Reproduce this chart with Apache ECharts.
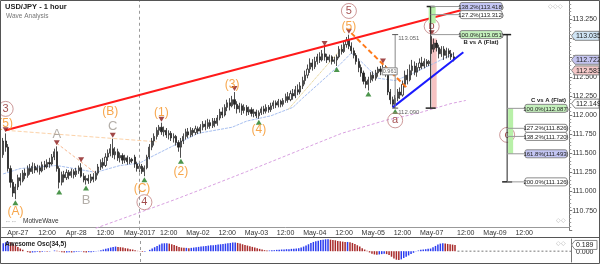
<!DOCTYPE html>
<html><head><meta charset="utf-8">
<script src="https://cdn.jsdelivr.net/npm/echarts@6/dist/echarts.min.js"></script>
<style>html,body{margin:0;padding:0;background:#fff;overflow:hidden}#c{width:600px;height:264px}</style>
</head><body><div id="c"></div>
<script>
// ================= DATA =================
const slotCount = 233; // hourly slots across the plot (incl. empty future area)
const timeTicks = [[6,'Apr-27'],[18,'12:00'],[30,'Apr-28'],[42,'12:00'],[56,'May-2017'],[68,'12:00'],[80,'May-02'],[92,'12:00'],[104,'May-03'],[116,'12:00'],[128,'May-04'],[140,'12:00'],[152,'May-05'],[164,'12:00'],[176,'May-07'],[190,'12:00'],[202,'May-09'],[214,'12:00']];
// [open, close, low, high]
const candles = [
[111.48,111.66,111.44,111.70],[111.66,111.58,111.52,111.76],[111.58,111.30,111.26,111.62],[111.30,111.12,111.05,111.34],
[111.12,110.98,110.93,111.16],[110.98,111.06,110.90,111.10],[111.06,111.18,111.02,111.22],[111.18,111.14,111.08,111.24],
[111.14,111.24,111.12,111.28],[111.24,111.21,111.16,111.30],[111.21,111.30,111.18,111.34],[111.30,111.26,111.22,111.36],
[111.26,111.33,111.23,111.38],[111.33,111.28,111.24,111.37],[111.28,111.31,111.25,111.35],[111.31,111.27,111.22,111.34],
[111.27,111.35,111.25,111.39],[111.35,111.32,111.28,111.40],[111.32,111.38,111.30,111.42],[111.38,111.36,111.31,111.44],
[111.36,111.45,111.34,111.49],[111.45,111.52,111.41,111.56],[111.52,111.30,111.26,111.59],[111.30,111.12,111.04,111.33],
[111.12,111.22,111.08,111.26],[111.22,111.18,111.12,111.27],[111.18,111.25,111.15,111.29],[111.25,111.21,111.16,111.28],
[111.21,111.26,111.18,111.30],[111.26,111.22,111.17,111.29],[111.22,111.27,111.19,111.31],[111.27,111.31,111.23,111.34],
[111.31,111.20,111.18,111.37],[111.20,111.15,111.12,111.24],[111.15,111.17,111.09,111.21],[111.17,111.14,111.10,111.22],
[111.14,111.19,111.11,111.23],[111.19,111.16,111.12,111.24],[111.16,111.24,111.14,111.27],[111.24,111.32,111.21,111.36],
[111.32,111.38,111.28,111.42],[111.38,111.34,111.30,111.44],[111.34,111.45,111.32,111.50],[111.45,111.50,111.40,111.55],
[111.50,111.56,111.46,111.62],[111.56,111.48,111.44,111.69],[111.48,111.52,111.42,111.58],[111.52,111.44,111.40,111.56],
[111.44,111.47,111.38,111.51],[111.47,111.41,111.36,111.50],[111.41,111.44,111.37,111.48],[111.44,111.39,111.35,111.47],
[111.39,111.42,111.36,111.45],[111.42,111.40,111.37,111.44],[111.45,111.36,111.31,111.48],[111.36,111.30,111.26,111.39],
[111.30,111.33,111.25,111.37],[111.33,111.26,111.23,111.36],[111.26,111.31,111.20,111.34],[111.31,111.45,111.29,111.48],
[111.45,111.58,111.42,111.62],[111.58,111.66,111.54,111.70],[111.66,111.72,111.60,111.76],[111.72,111.80,111.68,111.84],
[111.80,111.84,111.74,111.87],[111.84,111.78,111.74,111.90],[111.78,111.80,111.72,111.85],[111.80,111.74,111.70,111.83],
[111.74,111.76,111.68,111.80],[111.76,111.70,111.66,111.79],[111.70,111.72,111.64,111.76],[111.72,111.64,111.60,111.74],
[111.64,111.58,111.52,111.67],[111.58,111.66,111.44,111.70],[111.66,111.72,111.62,111.76],[111.72,111.78,111.68,111.82],
[111.78,111.74,111.70,111.83],[111.74,111.80,111.71,111.84],[111.80,111.77,111.72,111.83],[111.77,111.82,111.74,111.86],
[111.82,111.79,111.75,111.85],[111.79,111.84,111.76,111.88],[111.84,111.88,111.80,111.92],[111.88,111.85,111.80,111.93],
[111.85,111.90,111.82,111.95],[111.90,111.86,111.82,111.94],[111.86,111.92,111.83,111.96],[111.92,111.89,111.84,111.96],
[111.89,111.96,111.86,112.00],[111.96,112.04,111.93,112.08],[112.04,112.00,111.96,112.10],[112.00,112.10,111.98,112.14],
[112.10,112.16,112.05,112.20],[112.16,112.12,112.06,112.22],[112.12,112.20,112.10,112.25],[112.20,112.14,112.08,112.30],
[112.14,112.08,112.02,112.18],[112.08,112.12,112.03,112.16],[112.12,112.06,112.00,112.15],[112.06,112.10,112.02,112.14],
[112.10,112.04,111.99,112.13],[112.04,112.07,112.00,112.11],[112.07,112.02,111.98,112.10],[112.02,112.04,111.97,112.08],
[112.04,111.99,111.96,112.07],[111.99,112.03,111.95,112.06],[112.03,112.08,112.00,112.11],[112.08,112.05,112.01,112.12],
[112.05,112.10,112.02,112.14],[112.10,112.07,112.03,112.13],[112.07,112.12,112.04,112.16],[112.12,112.16,112.08,112.19],
[112.16,112.13,112.09,112.19],[112.13,112.18,112.10,112.21],[112.18,112.14,112.10,112.20],[112.14,112.19,112.11,112.22],
[112.19,112.24,112.16,112.28],[112.24,112.20,112.16,112.30],[112.20,112.28,112.18,112.32],[112.28,112.25,112.20,112.34],
[112.25,112.33,112.22,112.38],[112.33,112.30,112.26,112.40],[112.30,112.38,112.27,112.43],[112.38,112.45,112.34,112.50],
[112.45,112.52,112.40,112.58],[112.52,112.60,112.48,112.66],[112.60,112.68,112.55,112.74],[112.68,112.63,112.58,112.73],
[112.63,112.70,112.60,112.76],[112.70,112.76,112.66,112.80],[112.76,112.72,112.68,112.82],[112.72,112.80,112.70,112.85],
[112.80,112.76,112.71,112.89],[112.76,112.72,112.68,112.80],[112.72,112.76,112.69,112.79],[112.76,112.70,112.66,112.78],
[112.70,112.72,112.67,112.76],[112.72,112.76,112.64,112.79],[112.76,112.86,112.74,112.90],[112.86,112.83,112.79,112.92],
[112.83,112.92,112.81,112.96],[112.92,112.98,112.88,113.02],[112.98,112.90,112.86,113.05],[112.90,112.84,112.80,112.95],
[112.84,112.78,112.74,112.88],[112.78,112.70,112.66,112.81],[112.70,112.62,112.56,112.74],[112.62,112.55,112.50,112.66],
[112.55,112.44,112.40,112.58],[112.44,112.40,112.35,112.50],[112.40,112.46,112.32,112.50],[112.46,112.52,112.42,112.56],
[112.52,112.48,112.44,112.57],[112.48,112.55,112.45,112.59],[112.55,112.60,112.50,112.63],[112.60,112.57,112.52,112.64],
[112.57,112.62,112.54,112.66],[112.62,112.55,112.50,112.65],[112.55,112.30,112.26,112.58],[112.30,112.20,112.14,112.34],
[112.20,112.14,112.10,112.24],[112.14,112.22,112.09,112.26],[112.22,112.30,112.18,112.34],[112.30,112.26,112.21,112.36],
[112.26,112.40,112.24,112.45],[112.40,112.52,112.36,112.58],[112.52,112.46,112.40,112.60],[112.46,112.58,112.44,112.66],
[112.58,112.64,112.52,112.72],[112.64,112.56,112.52,112.70],[112.56,112.62,112.50,112.68],[112.62,112.68,112.58,112.74],
[112.68,112.64,112.60,112.76],[112.64,112.70,112.61,112.74],[112.70,112.67,112.63,112.73],[112.67,112.70,112.64,112.72],
[112.92,112.86,112.80,113.03],[112.86,112.94,112.82,113.00],[112.94,112.88,112.83,112.98],[112.88,112.80,112.74,112.92],
[112.80,112.86,112.76,112.90],[112.86,112.78,112.72,112.90],[112.78,112.84,112.74,112.88],[112.84,112.80,112.75,112.87],
[112.80,112.76,112.72,112.85],[112.76,112.72,112.70,112.82]
];
const maFast = [[0,111.23],[7,111.30],[22,111.34],[38,111.25],[48,111.34],[56,111.37],[60,111.44],[70,111.60],[80,111.76],[94,111.84],[100,111.92],[110,111.99],[119,112.10],[123,112.22],[130,112.42],[138,112.65],[143,112.81],[147,112.70],[154,112.48],[161,112.45],[168,112.54],[176,112.66],[185,112.80]];
const maSlow = [[38,110.52],[59,110.76],[71,110.90],[80,111.01],[100,111.26],[121,111.53],[139,111.76],[157,111.93],[170,112.02],[184,112.15],[190,112.19]];
const maTan = [[117,112.07],[142,112.98]];
const redTrend = [[1,111.80],[188,113.37]];
const blueTrend = [[160,112.10],[189,112.82]];
const orangeTrend = [[143,113.07],[166,112.35]];
const peachLine = [[1,111.80],[63,111.65]];
const abLine = [[22,111.63],[38,111.24]];
const monthSplit = 56;
const highMarks = [1,22,32,45,65,95,132,142,156,176];
const lowMarks = [5,23,34,58,73,105,137,150,161];
const circleLabels = [[1,112.08,'3'],[58,110.86,'4'],[142,113.36,'5'],[161,111.93,'a'],[176,113.16,'b'],[207,111.74,'c']];
const orangeLabels = [[1,111.89,'(5)'],[5,110.74,'(A)'],[44,112.04,'(B)'],[57,111.04,'(C)'],[65,112.03,'(1)'],[73,111.26,'(2)'],[94,112.40,'(3)'],[105,111.81,'(4)'],[142,113.15,'(5)']];
const grayLabels = [[22,111.74,'A'],[34,110.88,'B'],[45,111.85,'C']];
const fibBvsA = [['100.0%',113.051],['127.2%',113.312],['138.2%',113.418]];
const fibCvsA = [['100.0%',112.087],['127.2%',111.826],['138.2%',111.720],['161.8%',111.493],['200.0%',111.126]];
const measure = {index:161, top:113.051, bottom:112.090, diff:'0.961'};
const bIndex = 176, cToolIndex = 207;
const priceTags = [113.035, 112.722, 112.583, 112.149];
const osc = [0.24,0.27,0.29,0.27,0.23,0.18,0.13,0.08,0.04,0.00,-0.03,-0.05,-0.04,-0.03,-0.02,-0.03,-0.02,-0.01,-0.02,-0.01,
0.00,0.02,0.01,-0.01,-0.03,-0.04,-0.04,-0.03,-0.04,-0.03,-0.02,-0.02,-0.01,-0.03,-0.04,-0.03,-0.03,-0.02,-0.01,0.01,
0.03,0.05,0.07,0.09,0.11,0.13,0.14,0.13,0.12,0.11,0.09,0.08,0.06,0.05,0.03,0.01,-0.01,-0.02,-0.02,0.00,
0.04,0.08,0.12,0.16,0.20,0.23,0.24,0.24,0.23,0.21,0.19,0.16,0.13,0.11,0.10,0.10,0.09,0.10,0.11,0.12,
0.13,0.14,0.15,0.16,0.17,0.18,0.18,0.19,0.20,0.21,0.22,0.23,0.24,0.25,0.26,0.26,0.25,0.23,0.21,0.19,
0.17,0.15,0.13,0.11,0.09,0.07,0.05,0.03,0.02,0.02,0.03,0.03,0.04,0.04,0.05,0.05,0.06,0.06,0.07,0.07,
0.08,0.09,0.11,0.14,0.17,0.21,0.25,0.28,0.30,0.32,0.34,0.35,0.36,0.36,0.35,0.34,0.33,0.31,0.30,0.29,
0.28,0.28,0.27,0.25,0.22,0.18,0.14,0.09,0.05,0.01,-0.04,-0.08,-0.10,-0.11,-0.10,-0.09,-0.08,-0.09,-0.12,-0.17,
-0.22,-0.26,-0.27,-0.25,-0.21,-0.17,-0.13,-0.09,-0.05,-0.01,0.02,0.04,0.05,0.06,0.07,0.08,0.12,0.16,0.20,0.23,
0.24,0.23,0.22,0.21,0.20,0.19];
const oscLast = 0.189;

// ================= CHART =================
const FONT = 'Liberation Sans';
const slots = Array.from({length: slotCount}, (_, i) => 'h' + i);
const tickMap = {}; timeTicks.forEach(([i, t]) => tickMap[i] = t);
const isTick = (idx) => tickMap[idx] !== undefined;

const lineSeries = (data, color, width, type, extra) => Object.assign({
  type: 'line', data, xAxisIndex: 0, yAxisIndex: 0, showSymbol: false, symbol: 'none',
  lineStyle: {color, width, type}, silent: true, z: 3
}, extra || {});

const labelSeries = (data, fmt) => Object.assign({
  type: 'scatter', xAxisIndex: 0, yAxisIndex: 0, silent: true, z: 8,
  data: data.map(d => [d[0], d[1], d[2]])
}, fmt);

const option = {
  animation: false,
  backgroundColor: '#fff',
  textStyle: {fontFamily: FONT},
  grid: [
    {left: 2, right: 29, top: 0.25, height: 229.5},
    {left: 2, right: 29, top: 239, height: 23}
  ],
  xAxis: [
    {type: 'category', gridIndex: 0, data: slots, boundaryGap: true, offset: -2.5,
     axisLine: {lineStyle: {color: '#999', width: 1}},
     axisTick: {interval: isTick, alignWithLabel: true, length: 3, lineStyle: {color: '#666'}},
     axisLabel: {interval: isTick, formatter: (v, i) => tickMap[i] || '', fontSize: 7, color: '#333', margin: 2, fontFamily: FONT},
     splitLine: {show: false}},
    {type: 'category', gridIndex: 1, data: slots, boundaryGap: true,
     axisLine: {show: false}, axisTick: {show: false}, axisLabel: {show: false}, splitLine: {show: false}}
  ],
  yAxis: [
    {type: 'value', gridIndex: 0, position: 'right', min: 110.5, max: 113.5, interval: 0.25,
     axisLine: {show: true, lineStyle: {color: '#777'}},
     axisTick: {show: true, length: 3, lineStyle: {color: '#777'}},
     minorTick: {show: true, splitNumber: 5, length: 2, lineStyle: {color: '#999'}},
     axisLabel: {fontSize: 7, color: '#333', margin: 3, showMinLabel: false, showMaxLabel: false,
                 formatter: v => v.toFixed(3), fontFamily: FONT},
     splitLine: {show: false}},
    {type: 'value', gridIndex: 1, position: 'right', min: -0.33, max: 0.37,
     axisLine: {show: true, lineStyle: {color: '#777'}}, axisTick: {show: false},
     axisLabel: {show: false}, splitLine: {show: false}}
  ],
  series: [
    lineSeries(maSlow, '#d8a0e0', 1, [3, 2]),
    lineSeries(maFast, '#a8c0f0', 1, [3, 1]),
    lineSeries(maTan, '#e8d8a0', 1, [3, 1]),
    lineSeries(peachLine, '#fcd2a8', 1, [4, 2]),
    lineSeries(abLine, '#f8b890', 1, [3, 2]),
    {
      type: 'candlestick', xAxisIndex: 0, yAxisIndex: 0, z: 4,
      data: candles, barWidth: 1.6, silent: true,
      itemStyle: {color: '#ffffff', color0: '#222222', borderColor: '#222222', borderColor0: '#222222', borderWidth: 0.8},
      markLine: {silent: true, symbol: 'none', label: {show: false},
        lineStyle: {color: '#9a9a9a', type: [3, 3], width: 1},
        data: [{xAxis: monthSplit}]}
    },
    lineSeries(redTrend, '#ff1a1a', 2, 'solid', {z: 5}),
    lineSeries(blueTrend, '#1a1aff', 2, 'solid', {z: 5}),
    lineSeries(orangeTrend, '#ff7a1a', 2, [5, 3], {z: 5}),
    labelSeries(highMarks.map(i => [i, candles[i][3], '']), {
      symbol: 'triangle', symbolRotate: 180, symbolSize: [6, 5], symbolOffset: [0, -3.5],
      itemStyle: {color: '#8b1a1a'}}),
    labelSeries(lowMarks.map(i => [i, candles[i][2], '']), {
      symbol: 'triangle', symbolSize: [6, 5], symbolOffset: [0, 3.5],
      itemStyle: {color: '#1f7a1f'}}),
    labelSeries(circleLabels, {
      symbol: 'circle', symbolSize: 15,
      itemStyle: {color: 'rgba(255,255,255,0)', borderColor: '#c08080', borderWidth: 1},
      label: {show: true, position: 'inside', formatter: p => p.data[2], color: '#8b1f1f', fontSize: 11, fontFamily: FONT}}),
    labelSeries(orangeLabels, {
      symbol: 'circle', symbolSize: 1, itemStyle: {color: 'rgba(0,0,0,0)'},
      label: {show: true, position: 'inside', formatter: p => p.data[2], color: '#f5901e', fontSize: 12, fontFamily: FONT}}),
    labelSeries(grayLabels, {
      symbol: 'circle', symbolSize: 1, itemStyle: {color: 'rgba(0,0,0,0)'},
      label: {show: true, position: 'inside', formatter: p => p.data[2], color: '#a09a92', fontSize: 13, fontFamily: FONT}}),
    {
      type: 'bar', xAxisIndex: 1, yAxisIndex: 1, barWidth: 1.5, silent: true,
      data: osc.map((v, i) => ({value: v, itemStyle: {color: (i > 0 && v < osc[i - 1]) ? '#a82a2a' : '#2b3cf0'}})),
      markLine: {silent: true, symbol: 'none', label: {show: false},
        lineStyle: {color: '#9a9a9a', type: [3, 3], width: 1},
        data: [{xAxis: monthSplit}]}
    }
  ]
};

const chart = echarts.init(document.getElementById('c'), null, {renderer: 'canvas'});
chart.setOption(option);

// ================= ANNOTATIONS (positioned through the axes) =================
const P = (i, v) => chart.convertToPixel({gridIndex: 0}, [i, v]);
const PO = (i, v) => chart.convertToPixel({gridIndex: 1}, [i, v]);
const G = [];
const ln = (x1, y1, x2, y2, stroke, w, dash, z) => G.push({type: 'line', silent: true, z: z || 20,
  shape: {x1, y1, x2, y2}, style: {stroke, lineWidth: w || 1, lineDash: dash || null}});
const rc = (x, y, w, h, fill, stroke, r, z) => G.push({type: 'rect', silent: true, z: z || 20,
  shape: {x, y, width: w, height: h, r: r || 0}, style: {fill, stroke: stroke || null, lineWidth: stroke ? 1 : 0}});
const tx = (x, y, text, o, z) => G.push({type: 'text', silent: true, z: z || 30, x, y,
  style: Object.assign({text, fill: '#222', fontSize: 6, fontFamily: FONT, align: 'left', verticalAlign: 'middle'}, o || {})});
const box = (x, y, text, fill) => { rc(x, y - 4, 42, 8, fill, '#8a8a8a', 2, 25); tx(x + 21, y + 0.5, text, {align: 'center', fontSize: 6, fill: '#222'}); };

const xRight = 571;
// Frame
G.push({type: 'rect', silent: true, z: 40, shape: {x: 0.5, y: 0.5, width: 599, height: 263}, style: {fill: null, stroke: '#555', lineWidth: 1}});
ln(0, 237.5, 600, 237.5, '#555', 1, null, 40);

// Title & watermark texts
tx(5, 7, 'USD/JPY - 1 hour', {fontSize: 7.5, fontWeight: 'bold', fill: '#222'});
tx(6, 16, 'Wave Analysis', {fontSize: 6.5, fill: '#777'});
tx(23, 221.5, 'MotiveWave', {fontSize: 6.5, fill: '#333'});
tx(5, 221.5, '⇔⇔', {fontSize: 6, fill: '#999'});
tx(548, 6, '◇◇◇', {fontSize: 6, fill: '#aaa'});
tx(556, 220, '◇◇', {fontSize: 6, fill: '#aaa'});
tx(556, 243, '◇◇', {fontSize: 6, fill: '#aaa'});
tx(5, 244, 'Awesome Osc(34,5)', {fontSize: 6.5, fontWeight: 'bold', fill: '#222'});

// Measurement tool at wave a
{
  const [xm, yt] = P(measure.index, measure.top);
  const yb = P(measure.index, measure.bottom)[1];
  ln(xm, yt, xm, yb, '#888', 1);
  ln(xm - 3, yt, xm + 3, yt, '#555', 1);
  ln(xm - 3, yb, xm + 3, yb, '#555', 1);
  tx(xm + 3, yt + 4, measure.top.toFixed(3), {fontSize: 6, fill: '#666'});
  tx(xm + 3, yb + 4, measure.bottom.toFixed(3), {fontSize: 6, fill: '#666'});
  rc(xm - 13, (yt + yb) / 2 - 3.5, 15, 7, '#fff', '#888', 0, 22);
  tx(xm - 5.5, (yt + yb) / 2, measure.diff, {fontSize: 5.5, fill: '#666', align: 'center'});
}

// B vs A (Flat) tool
const xb = P(bIndex, 113)[0] - 1;
const xc = P(cToolIndex, 113)[0];
{
  const yTop = P(bIndex, fibBvsA[2][1])[1];
  const y100 = P(bIndex, fibBvsA[0][1])[1];
  const yA = P(bIndex, measure.bottom)[1];
  rc(xb - 2, yTop, 7, P(bIndex, 113.2)[1] - yTop, '#b8f0a8', null, 0, 10);
  rc(xb + 1, P(bIndex, 113.0)[1], 5, yA - P(bIndex, 113.0)[1], '#f6c2c2', null, 0, 2);
  ln(xb, yTop, xb, yA, '#222', 1, null, 21);
  ln(xb - 4, yTop, xb + 4, yTop, '#222', 1.5, null, 21);
  ln(xb - 5, yA, xb + 5, yA, '#222', 1.5, null, 21);
  fibBvsA.forEach(([pct, v], k) => {
    const y = P(bIndex, v)[1];
    ln(xb, y, k === 0 ? xc : 460, y, '#999', 1, null, 21);
    box(460, y, pct + '(' + v.toFixed(3) + ')', ['#c4f0bc', '#ffffff', '#c4c6f4'][k]);
  });
  tx(481, y100 + 8, 'B vs A (Flat)', {fontSize: 6, fontWeight: 'bold', align: 'center'});
}
// C vs A (Flat) tool
{
  const yTop = P(cToolIndex, fibBvsA[0][1])[1];
  const yBot = P(cToolIndex, fibCvsA[4][1])[1];
  const yG1 = P(cToolIndex, fibCvsA[0][1])[1], yG2 = P(cToolIndex, fibCvsA[3][1])[1];
  rc(xc + 1, yG1, 5, yG2 - yG1, '#b8f0a8', null, 0, 10);
  ln(xc, yTop, xc, yBot, '#222', 1, null, 21);
  ln(xc - 4, yTop, xc + 4, yTop, '#222', 1.5, null, 21);
  ln(xc - 5, yBot, xc + 5, yBot, '#222', 1.5, null, 21);
  fibCvsA.forEach(([pct, v], k) => {
    const y = P(cToolIndex, v)[1];
    ln(xc, y, 525, y, '#999', 1, null, 21);
    box(525, y, pct + '(' + v.toFixed(3) + ')', ['#c4f0bc', '#ffffff', '#ffffff', '#c4c6f4', '#ffffff'][k]);
  });
  tx(566, yG1 - 8, 'C vs A (Flat)', {fontSize: 6, fontWeight: 'bold', align: 'right'});
}
// Price tags on the right axis
priceTags.forEach((v, k) => {
  const y = P(0, v)[1];
  G.push({type: 'polygon', silent: true, z: 35, shape: {points: [[xRight + 0.5, y], [xRight + 4, y - 4.5], [599, y - 4.5], [599, y + 4.5], [xRight + 4, y + 4.5]]},
    style: {fill: ['#cfe4f4', '#c4c4f0', '#f4c8c8', '#ffffff'][k], stroke: '#888', lineWidth: 1}});
  tx(xRight + 5, y + 0.5, v.toFixed(3), {fontSize: 7, fill: '#222'}, 45);
});
// Oscillator right labels and current line
{
  const y0 = PO(0, 0)[1];
  const yl = PO(0, oscLast)[1];
  const xEnd = PO(osc.length, 0)[0];
  ln(xEnd, y0, xRight, y0, '#777', 1, [2, 2], 21);
  tx(xRight + 5, y0 + 1, '0.000', {fontSize: 7, fill: '#222'}, 30);
  G.push({type: 'polygon', silent: true, z: 35, shape: {points: [[xRight + 0.5, yl], [xRight + 4, yl - 4.5], [597, yl - 4.5], [597, yl + 4.5], [xRight + 4, yl + 4.5]]},
    style: {fill: '#fff', stroke: '#888', lineWidth: 1}});
  tx(xRight + 5, yl + 0.5, oscLast.toFixed(3), {fontSize: 7, fill: '#222'}, 45);
}
chart.setOption({graphic: G});
</script>
</body></html>
